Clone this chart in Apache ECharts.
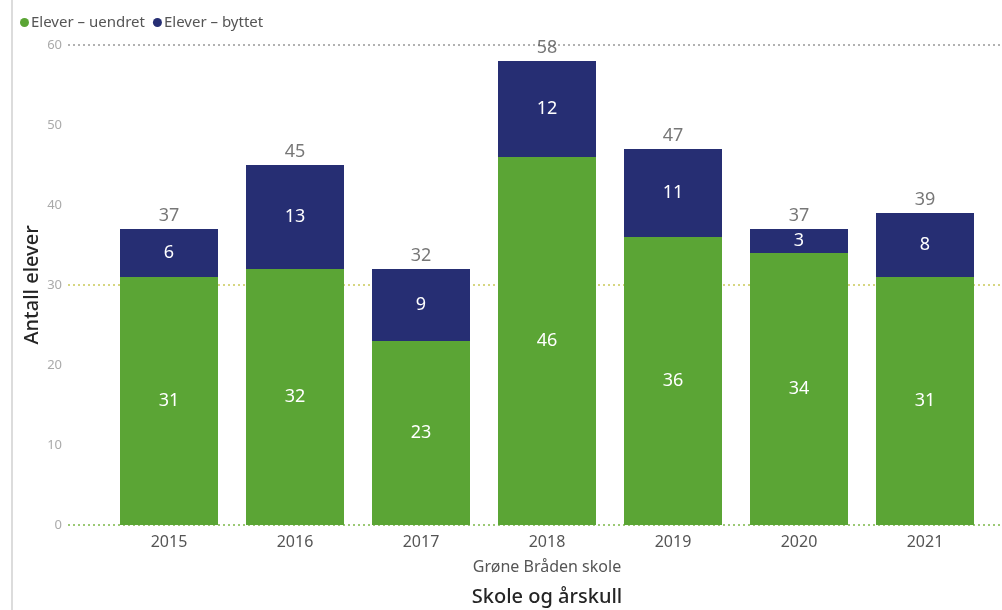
<!DOCTYPE html>
<html><head><meta charset="utf-8">
<script src="https://cdn.jsdelivr.net/npm/echarts@6/dist/echarts.min.js"></script>
<style>html,body{margin:0;padding:0;background:#fff}#c{width:1002px;height:610px}</style>
</head><body><div id="c"></div>
<script>
const categories = ['2015','2016','2017','2018','2019','2020','2021'];
const uendret = [31,32,23,46,36,34,31];
const byttet = [6,13,9,12,11,3,8];
const yTicks = [0,10,20,30,40,50,60];
const totals = categories.map((c,i)=>uendret[i]+byttet[i]);
const FONT = '"Noto Sans", "Open Sans", sans-serif';
const chart = echarts.init(document.getElementById('c'));
chart.setOption({
  animation:false,
  textStyle:{fontFamily:FONT},
  legend:{
    left:15, top:10, icon:'circle', itemWidth:9, itemHeight:9, itemGap:8,
    textStyle:{fontSize:15,color:'#555',fontFamily:FONT, padding:[0,0,0,-3]},
    data:['Elever – uendret','Elever – byttet']
  },
  grid:[
    {left:68, right:0, top:45, height:480},
    {left:106, width:882, top:45, height:480}
  ],
  xAxis:[
    {gridIndex:0,type:'value',min:0,max:1,show:false},
    {gridIndex:1,type:'category',data:categories,
     axisLine:{show:false},axisTick:{show:false},
     axisLabel:{fontSize:16,color:'#555',margin:9,fontFamily:FONT}}
  ],
  yAxis:[
    {gridIndex:0,type:'value',min:yTicks[0],max:yTicks[yTicks.length-1],interval:10,
     axisLine:{show:false},axisTick:{show:false},
     axisLabel:{fontSize:13,color:'#aaa',margin:6,fontFamily:FONT},
     splitLine:{show:true,lineStyle:{type:[2,3],width:1.5,
       color:['#7cb84a','rgba(0,0,0,0)','rgba(0,0,0,0)','#c9c95a','rgba(0,0,0,0)','rgba(0,0,0,0)','#999999']}}},
    {gridIndex:1,type:'value',min:0,max:60,show:false,splitLine:{show:false}}
  ],
  series:[
    {name:'Elever – uendret',type:'bar',stack:'s',xAxisIndex:1,yAxisIndex:1,
     data:uendret,barWidth:98,itemStyle:{color:'#5ba535'},
     label:{show:true,position:'inside',color:'#fff',fontSize:18,fontFamily:FONT}},
    {name:'Elever – byttet',type:'bar',stack:'s',xAxisIndex:1,yAxisIndex:1,
     data:byttet,barWidth:98,itemStyle:{color:'#262e73'},
     label:{show:true,position:'inside',color:'#fff',fontSize:18,fontFamily:FONT}},
    {name:'Total',type:'scatter',xAxisIndex:1,yAxisIndex:1,data:totals,
     symbolSize:2,itemStyle:{color:'rgba(255,255,255,0)'},silent:true,z:1,
     label:{show:true,position:'top',distance:3,color:'#555',fontSize:18,fontFamily:FONT}}
  ],
  graphic:[
    {type:'line',shape:{x1:12,y1:0,x2:12,y2:610},style:{stroke:'#d0d0d0',lineWidth:1.5}},
    {type:'text',x:547,y:567,style:{text:'Grøne Bråden skole',font:'16px '+FONT,fill:'#555',textAlign:'center',textVerticalAlign:'middle'}},
    {type:'text',x:547,y:597,style:{text:'Skole og årskull',font:'500 20px '+FONT,fill:'#252525',textAlign:'center',textVerticalAlign:'middle'}},
    {type:'text',x:32,y:285,rotation:Math.PI/2,style:{text:'Antall elever',font:'500 20px '+FONT,fill:'#252525',textAlign:'center',textVerticalAlign:'middle'}}
  ]
});
</script></body></html>
